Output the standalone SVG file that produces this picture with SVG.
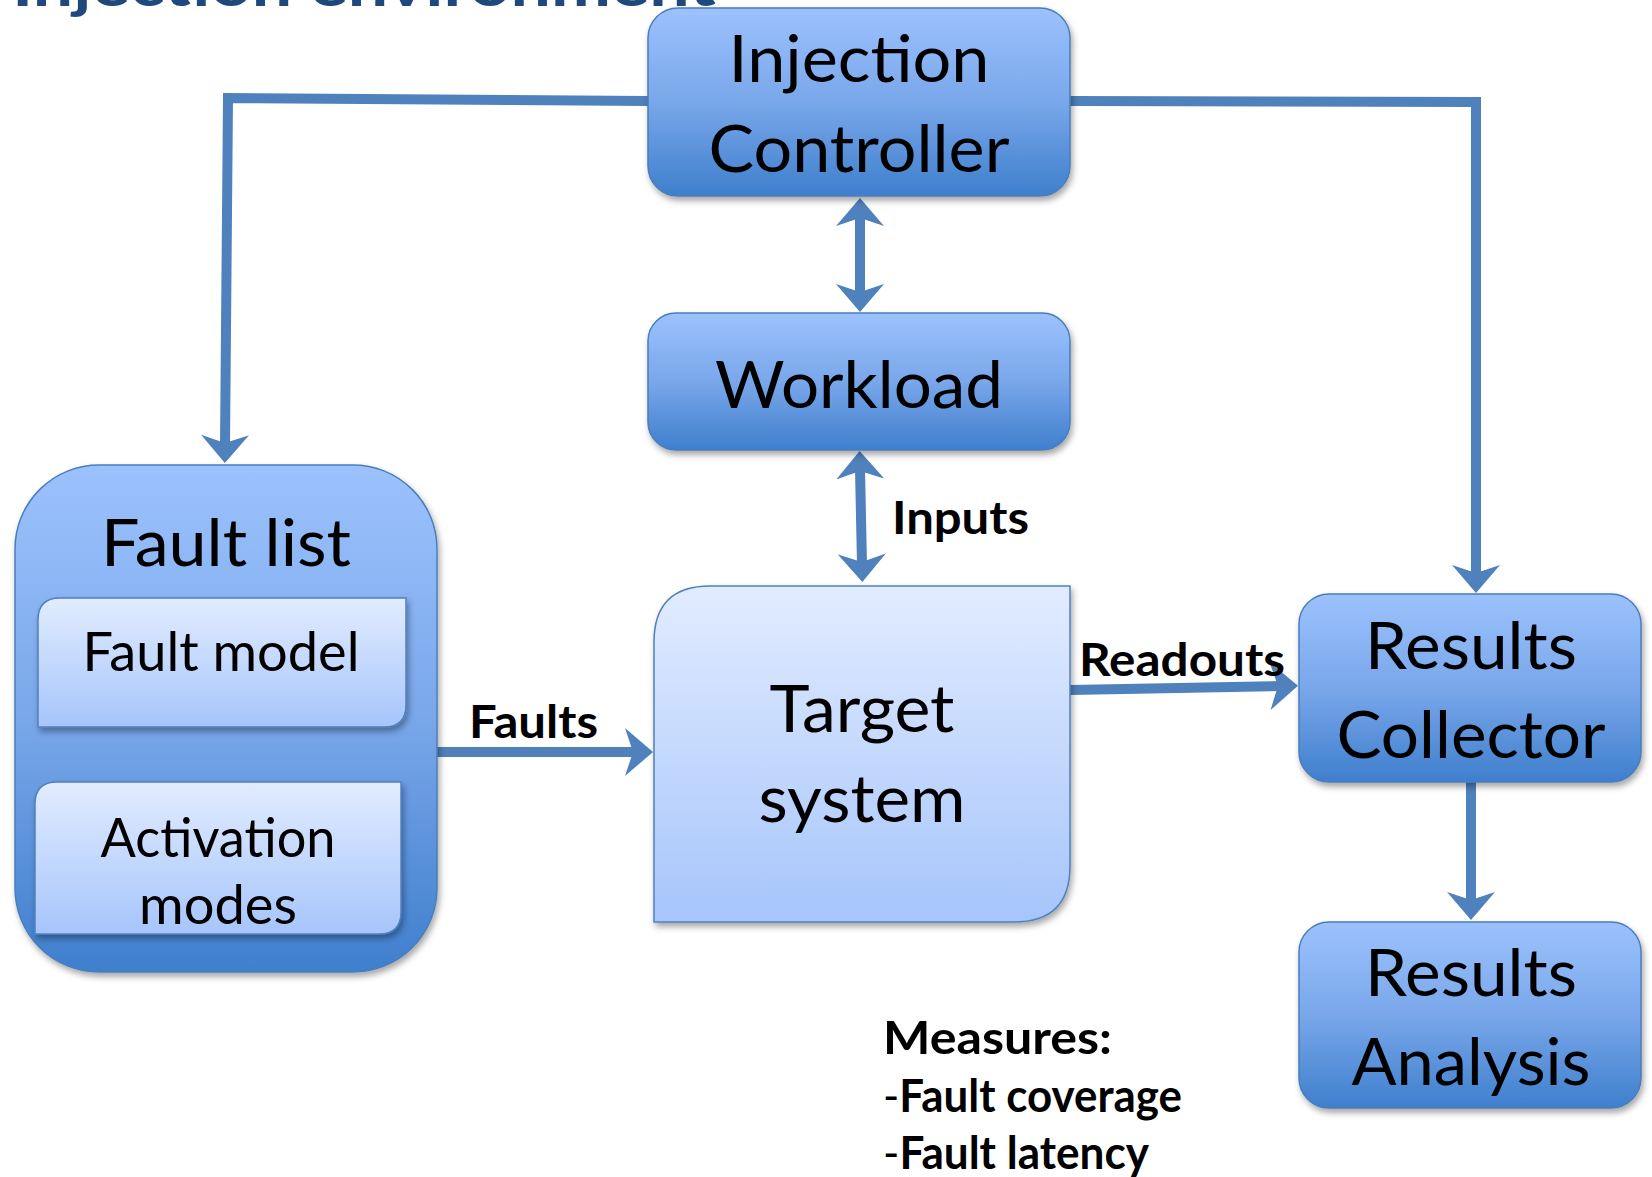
<svg xmlns="http://www.w3.org/2000/svg" width="1652" height="1177" viewBox="0 0 1652 1177">
<defs>
  <linearGradient id="gDark" x1="0" y1="0" x2="0" y2="1">
    <stop offset="0" stop-color="#9CC2FD"/>
    <stop offset="0.5" stop-color="#79A7EA"/>
    <stop offset="1" stop-color="#3F7FCD"/>
  </linearGradient>
  <linearGradient id="gLight" x1="0" y1="0" x2="0" y2="1">
    <stop offset="0" stop-color="#E2ECFF"/>
    <stop offset="1" stop-color="#A6C5FB"/>
  </linearGradient>
  <filter id="sh" x="-10%" y="-10%" width="130%" height="130%">
    <feDropShadow dx="2" dy="4" stdDeviation="3" flood-color="#000" flood-opacity="0.35"/>
  </filter>
  <marker id="ah" viewBox="0 -24 28 48" markerWidth="28" markerHeight="48" refX="10" refY="0" markerUnits="userSpaceOnUse" orient="auto-start-reverse">
    <path d="M0,-24 L28,0 L0,24 L8,0 Z" fill="#4F81BD"/>
  </marker>
  <style>
    .dark{fill:url(#gDark);stroke:#4A7EBB;stroke-width:1.5;filter:url(#sh)}
    .light{fill:url(#gLight);stroke:#4F81BD;stroke-width:1.5;filter:url(#sh)}
    .lbl{font-family:Lato,"Liberation Sans",sans-serif;fill:#000;text-anchor:middle}
    .big{font-size:66px}
    .mid{font-size:54px}
    .bl{font-family:Lato,"Liberation Sans",sans-serif;font-weight:bold;fill:#000;font-size:46px}
    .conn{fill:none;stroke:#4F81BD;stroke-width:10;stroke-linejoin:miter}
  </style>
</defs>
<rect width="1652" height="1177" fill="#fff"/>

<text x="12" y="6" font-family="Lato,'Liberation Sans',sans-serif" font-weight="bold" font-size="60" fill="#1F497D" textLength="704" lengthAdjust="spacingAndGlyphs">Injection environment</text>

<g id="connectors">
  <path class="conn" d="M648,101 L228,98 L225,445" marker-end="url(#ah)"/>
  <path class="conn" d="M1070,101 L1476,102 L1476,575" marker-end="url(#ah)"/>
  <path class="conn" d="M860,216 L860,294" marker-start="url(#ah)" marker-end="url(#ah)"/>
  <path class="conn" d="M860,469 L862,564" marker-start="url(#ah)" marker-end="url(#ah)"/>
  <path class="conn" d="M437,752 L635,752" marker-end="url(#ah)"/>
  <path class="conn" d="M1070,690 L1280,686" marker-end="url(#ah)"/>
  <path class="conn" d="M1471,782 L1471,902" marker-end="url(#ah)"/>
  <text class="bl" x="892" y="534" textLength="137" lengthAdjust="spacingAndGlyphs">Inputs</text>
  <text class="bl" x="469" y="738" textLength="129" lengthAdjust="spacingAndGlyphs">Faults</text>
  <text class="bl" x="1079" y="676" textLength="206" lengthAdjust="spacingAndGlyphs">Readouts</text>
</g>

<g id="injection-controller">
  <rect class="dark" x="648" y="8" width="422" height="188" rx="30"/>
  <text class="lbl big" x="859" y="82" textLength="261" lengthAdjust="spacingAndGlyphs">Injection</text>
  <text class="lbl big" x="859" y="172" textLength="301" lengthAdjust="spacingAndGlyphs">Controller</text>
</g>

<g id="workload">
  <rect class="dark" x="648" y="313" width="422" height="137" rx="28"/>
  <text class="lbl big" x="859" y="408" textLength="288" lengthAdjust="spacingAndGlyphs">Workload</text>
</g>

<g id="fault-list">
  <rect class="dark" x="15" y="465" width="422" height="507" rx="84"/>
  <text class="lbl big" x="226" y="566" font-size="69" textLength="250" lengthAdjust="spacingAndGlyphs">Fault list</text>
</g>

<g id="fault-model">
  <path class="light" d="M60,598 L406,598 L406,705 Q406,727 384,727 L38,727 L38,620 Q38,598 60,598 Z"/>
  <text class="lbl mid" x="221" y="671" textLength="277" lengthAdjust="spacingAndGlyphs">Fault model</text>
</g>

<g id="activation-modes">
  <path class="light" d="M57,782 L401,782 L401,912 Q401,934 379,934 L35,934 L35,804 Q35,782 57,782 Z"/>
  <text class="lbl mid" x="218" y="857" textLength="235" lengthAdjust="spacingAndGlyphs">Activation</text>
  <text class="lbl mid" x="218" y="924" textLength="158" lengthAdjust="spacingAndGlyphs">modes</text>
</g>

<g id="target-system">
  <path class="light" d="M710,586 L1070,586 L1070,866 Q1070,922 1014,922 L654,922 L654,642 Q654,586 710,586 Z"/>
  <text class="lbl big" x="862" y="732" textLength="185" lengthAdjust="spacingAndGlyphs">Target</text>
  <text class="lbl big" x="862" y="822" textLength="207" lengthAdjust="spacingAndGlyphs">system</text>
</g>

<g id="results-collector">
  <rect class="dark" x="1299" y="594" width="342" height="188" rx="30"/>
  <text class="lbl big" x="1471" y="669" textLength="212" lengthAdjust="spacingAndGlyphs">Results</text>
  <text class="lbl big" x="1471" y="758" textLength="269" lengthAdjust="spacingAndGlyphs">Collector</text>
</g>

<g id="results-analysis">
  <rect class="dark" x="1299" y="922" width="342" height="186" rx="30"/>
  <text class="lbl big" x="1471" y="996" textLength="212" lengthAdjust="spacingAndGlyphs">Results</text>
  <text class="lbl big" x="1471" y="1085" textLength="239" lengthAdjust="spacingAndGlyphs">Analysis</text>
</g>

<g id="measures">
  <text class="bl" x="883" y="1054" font-size="50" textLength="229" lengthAdjust="spacingAndGlyphs">Measures:</text>
  <text class="bl" x="883" y="1112" font-size="50" textLength="299" lengthAdjust="spacingAndGlyphs"><tspan font-weight="normal">-</tspan>Fault coverage</text>
  <text class="bl" x="883" y="1169" font-size="50" textLength="266" lengthAdjust="spacingAndGlyphs"><tspan font-weight="normal">-</tspan>Fault latency</text>
</g>
</svg>
